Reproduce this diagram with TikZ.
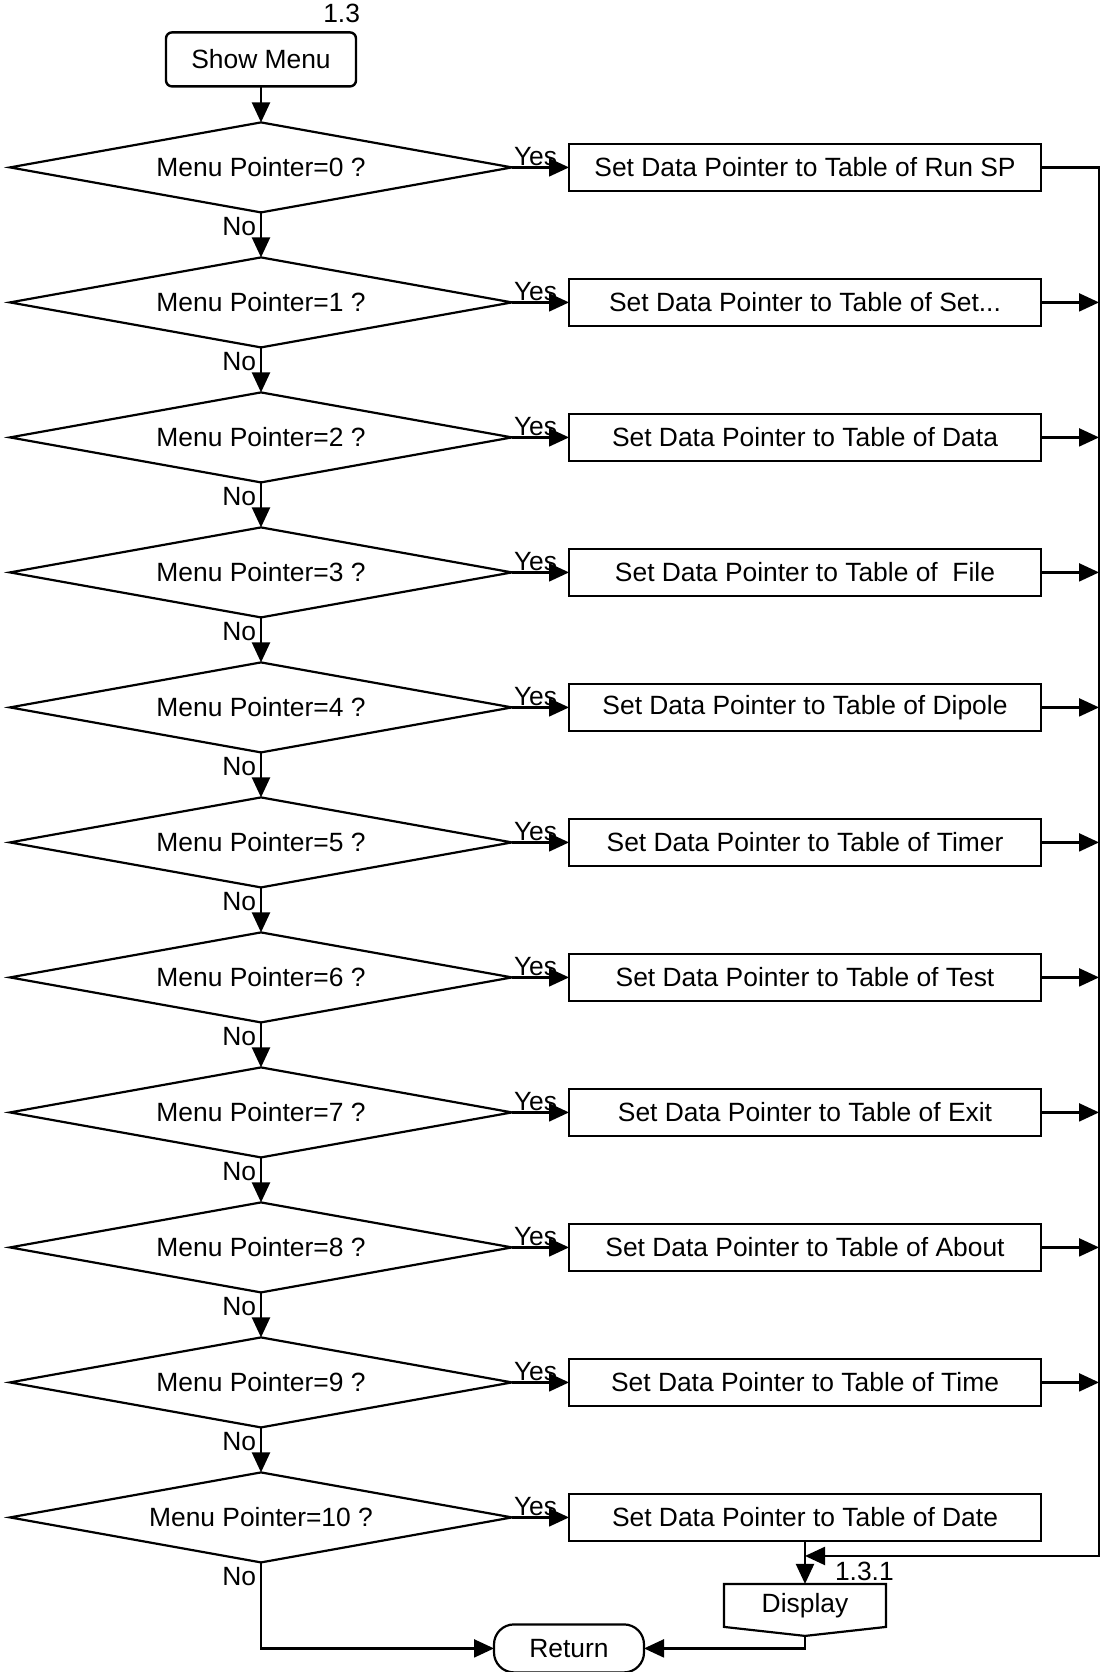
\documentclass[tikz,border=0pt]{standalone}
\usepackage{fontspec}
\setmainfont{Liberation Sans}
\usetikzlibrary{positioning, arrows.meta, calc, shapes.geometric}

\begin{document}
\begin{tikzpicture}[
  node distance=22.5pt and 28.5pt,
  font=\fontsize{13.2}{15}\selectfont,
  every node/.style={outer sep=0pt},
  decision/.style={draw, diamond, line width=1.1pt, minimum width=251pt, minimum height=45pt,
                   inner sep=0pt, aspect=5.6},
  action/.style={draw, rectangle, line width=1.2pt, minimum width=236pt, minimum height=23.5pt,
                 inner sep=0pt},
  startbox/.style={draw, rounded corners=3pt, line width=1.2pt, minimum width=95pt, minimum height=27pt},
  term/.style={draw, rounded corners=10pt, line width=1.1pt, minimum width=75pt, minimum height=24pt},
  lbl/.style={inner sep=1pt},
  nolbl/.style={inner sep=2.5pt, anchor=north east},
  arrow/.style={-{Triangle[length=10pt, width=9pt]}, line width=1.1pt},
  line/.style={line width=1.1pt}
]
  \useasboundingbox (0,0) rectangle (555pt,-836pt);

  % decisions and actions
  \node[decision] (d0) at (130.5pt,-83.7pt) {Menu Pointer=0 ?};
  \node[startbox, above=18pt of d0] (menu) {Show Menu};
  \node[lbl, anchor=base east] (tag13) at ($(menu.north east)+(3pt,5pt)$) {1.3};
  \node[action, right=of d0] (s0) {Set Data Pointer to Table of Run SP};
  \node[decision, below=of d0] (d1) {Menu Pointer=1 ?};
  \node[action, right=of d1] (s1) {Set Data Pointer to Table of Set...};
  \node[decision, below=of d1] (d2) {Menu Pointer=2 ?};
  \node[action, right=of d2] (s2) {Set Data Pointer to Table of Data};
  \node[decision, below=of d2] (d3) {Menu Pointer=3 ?};
  \node[action, right=of d3] (s3) {Set Data Pointer to Table of \ File};
  \node[decision, below=of d3] (d4) {Menu Pointer=4 ?};
  \node[action, right=of d4] (s4) {Set Data Pointer to Table of Dipole};
  \node[decision, below=of d4] (d5) {Menu Pointer=5 ?};
  \node[action, right=of d5] (s5) {Set Data Pointer to Table of Timer};
  \node[decision, below=of d5] (d6) {Menu Pointer=6 ?};
  \node[action, right=of d6] (s6) {Set Data Pointer to Table of Test};
  \node[decision, below=of d6] (d7) {Menu Pointer=7 ?};
  \node[action, right=of d7] (s7) {Set Data Pointer to Table of Exit};
  \node[decision, below=of d7] (d8) {Menu Pointer=8 ?};
  \node[action, right=of d8] (s8) {Set Data Pointer to Table of About};
  \node[decision, below=of d8] (d9) {Menu Pointer=9 ?};
  \node[action, right=of d9] (s9) {Set Data Pointer to Table of Time};
  \node[decision, below=of d9] (d10) {Menu Pointer=10 ?};
  \node[action, right=of d10] (s10) {Set Data Pointer to Table of Date};

  % display and return
  \node[below=21.5pt of s10, minimum width=81pt, minimum height=21.5pt] (disp) {Display};
  \coordinate (disptip) at ($(disp.south)+(0,-4.5pt)$);
  \draw[line] (disp.north west) -- (disp.north east) -- (disp.south east) -- (disptip)
    -- (disp.south west) -- cycle;
  \coordinate (retpos) at (d10.south -| s10.west);
  \node[term, below=31pt of retpos] (ret) {Return};
  \coordinate (bus) at ($(s0.east)+(29pt,0)$);
  \coordinate (join) at ($(s10.south)!0.35!(disp.north)$);
  \node[lbl, anchor=west] (tag131) at ($(join)+(14pt,-7.5pt)$) {1.3.1};

  % main chain
  \draw[arrow] (menu) -- (d0);
  \draw[arrow] (d0.south) -- (d1.north);
  \draw[arrow] (d1.south) -- (d2.north);
  \draw[arrow] (d2.south) -- (d3.north);
  \draw[arrow] (d3.south) -- (d4.north);
  \draw[arrow] (d4.south) -- (d5.north);
  \draw[arrow] (d5.south) -- (d6.north);
  \draw[arrow] (d6.south) -- (d7.north);
  \draw[arrow] (d7.south) -- (d8.north);
  \draw[arrow] (d8.south) -- (d9.north);
  \draw[arrow] (d9.south) -- (d10.north);
  \node[nolbl] (n0) at (d0.south) {No};
  \node[nolbl] (n1) at (d1.south) {No};
  \node[nolbl] (n2) at (d2.south) {No};
  \node[nolbl] (n3) at (d3.south) {No};
  \node[nolbl] (n4) at (d4.south) {No};
  \node[nolbl] (n5) at (d5.south) {No};
  \node[nolbl] (n6) at (d6.south) {No};
  \node[nolbl] (n7) at (d7.south) {No};
  \node[nolbl] (n8) at (d8.south) {No};
  \node[nolbl] (n9) at (d9.south) {No};
  \node[nolbl] (n10) at (d10.south) {No};

  % yes branches
  \draw[arrow] (d0.east) -- (s0.west);
  \draw[arrow] (d1.east) -- (s1.west);
  \draw[arrow] (d2.east) -- (s2.west);
  \draw[arrow] (d3.east) -- (s3.west);
  \draw[arrow] (d4.east) -- (s4.west);
  \draw[arrow] (d5.east) -- (s5.west);
  \draw[arrow] (d6.east) -- (s6.west);
  \draw[arrow] (d7.east) -- (s7.west);
  \draw[arrow] (d8.east) -- (s8.west);
  \draw[arrow] (d9.east) -- (s9.west);
  \draw[arrow] (d10.east) -- (s10.west);
  \node[lbl, anchor=south west] (y0) at (d0.east) {Yes};
  \node[lbl, anchor=south west] (y1) at (d1.east) {Yes};
  \node[lbl, anchor=south west] (y2) at (d2.east) {Yes};
  \node[lbl, anchor=south west] (y3) at (d3.east) {Yes};
  \node[lbl, anchor=south west] (y4) at (d4.east) {Yes};
  \node[lbl, anchor=south west] (y5) at (d5.east) {Yes};
  \node[lbl, anchor=south west] (y6) at (d6.east) {Yes};
  \node[lbl, anchor=south west] (y7) at (d7.east) {Yes};
  \node[lbl, anchor=south west] (y8) at (d8.east) {Yes};
  \node[lbl, anchor=south west] (y9) at (d9.east) {Yes};
  \node[lbl, anchor=south west] (y10) at (d10.east) {Yes};

  % collecting line
  \draw[arrow] (s0.east) -- (bus) |- (join);
  \draw[arrow] (s1.east) -- (s1.east -| bus);
  \draw[arrow] (s2.east) -- (s2.east -| bus);
  \draw[arrow] (s3.east) -- (s3.east -| bus);
  \draw[arrow] (s4.east) -- (s4.east -| bus);
  \draw[arrow] (s5.east) -- (s5.east -| bus);
  \draw[arrow] (s6.east) -- (s6.east -| bus);
  \draw[arrow] (s7.east) -- (s7.east -| bus);
  \draw[arrow] (s8.east) -- (s8.east -| bus);
  \draw[arrow] (s9.east) -- (s9.east -| bus);
  \draw[arrow] (s10.south) -- (disp.north);
  \draw[arrow] (disptip) |- (ret.east);
  \draw[arrow] (d10.south) |- (ret.west);
\end{tikzpicture}
\end{document}
